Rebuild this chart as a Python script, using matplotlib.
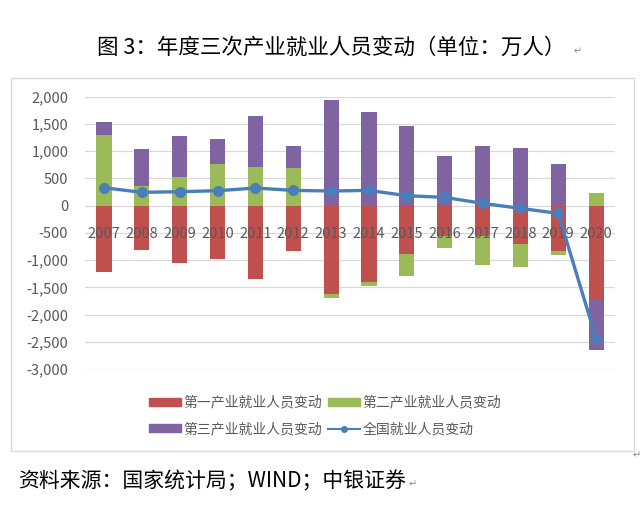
import numpy as np
import matplotlib.pyplot as plt
from matplotlib.patches import Rectangle, Patch
from matplotlib.lines import Line2D
from matplotlib.ticker import FuncFormatter

plt.rcParams['font.family'] = ['Noto Sans CJK SC', 'DejaVu Sans']
plt.rcParams['axes.unicode_minus'] = False

years = ['2007', '2008', '2009', '2010', '2011', '2012', '2013',
         '2014', '2015', '2016', '2017', '2018', '2019', '2020']
primary = [-1211, -805, -1046, -979, -1345, -832, -1615,
           -1394, -887, -550, -550, -703, -832, -1731]
secondary = [1290, 361, 526, 758, 703, 691, -73,
             -80, -397, -221, -533, -416, -73, 226]
tertiary = [251, 685, 758, 471, 948, 410, 1945,
            1725, 1468, 905, 1101, 1064, 771, -917]
total = [330, 245, 257, 275, 324, 281, 269,
         281, 183, 153, 43, -49, -141, -2434]
names = ['第一产业就业人员变动', '第二产业就业人员变动',
         '第三产业就业人员变动', '全国就业人员变动']
colors = ['#C0504D', '#9BBB59', '#8064A2']
line_color = '#4A7EBB'

fig = plt.figure(figsize=(6.4, 5.07), dpi=100)

# chart frame
fig.patches.append(Rectangle((11 / 640, 1 - 451 / 507), 623 / 640, 373 / 507,
                             transform=fig.transFigure, fill=False,
                             edgecolor='#D9D9D9', lw=1.0))

ax = fig.add_axes([85 / 640, 1 - 369.2 / 507, 530 / 640, 272.5 / 507])
x = np.arange(len(years))
pos_base = np.zeros(len(years))
neg_base = np.zeros(len(years))
for vals, c in zip([primary, secondary, tertiary], colors):
    v = np.array(vals, dtype=float)
    base = np.where(v >= 0, pos_base, neg_base)
    ax.bar(x, v, 0.4, bottom=base, color=c, zorder=2)
    pos_base += np.where(v >= 0, v, 0)
    neg_base += np.where(v < 0, v, 0)

ax.plot(x, total, color=line_color, lw=2.4, marker='o', ms=7, zorder=4)

ax.set_xlim(-0.5, len(years) - 0.5)
ax.set_ylim(-3000, 2000)
ax.set_yticks(np.arange(-3000, 2001, 500))
ax.yaxis.set_major_formatter(FuncFormatter(lambda v, p: f'{int(v):,}'))
ax.grid(axis='y', color='#D9D9D9', lw=0.9, zorder=0)
ax.set_xticks(x)
ax.set_xticklabels(years)
for s in ['top', 'right', 'left']:
    ax.spines[s].set_visible(False)
ax.spines['bottom'].set_position(('data', 0))
ax.spines['bottom'].set_visible(False)
ax.xaxis.set_zorder(3)
ax.tick_params(axis='x', length=0, pad=15, labelsize=10.5, labelcolor='#595959')
ax.tick_params(axis='y', length=0, pad=12, labelsize=10.5, labelcolor='#595959')

handles = [Patch(color=c) for c in colors]
handles.append(Line2D([], [], color=line_color, lw=1.5, marker='o', ms=4))
order = [0, 2, 1, 3]
leg = fig.legend([handles[i] for i in order], [names[i] for i in order],
                 ncol=2, loc='center', frameon=False,
                 bbox_to_anchor=(0.508, 1 - 416 / 507), fontsize=10,
                 handlelength=2.3, handleheight=0.5, handletextpad=0.2,
                 columnspacing=0.4, labelspacing=0.9)
for t in leg.get_texts():
    t.set_color('#595959')

fig.text(0.518, 1 - 48 / 507, '图 3：年度三次产业就业人员变动（单位：万人）',
         ha='center', va='center', fontsize=15.5, color='black')
fig.text(18 / 640, 1 - 481 / 507, '资料来源：国家统计局；WIND；中银证券',
         ha='left', va='center', fontsize=15, color='black')

# word paragraph marks
for px, py in [(578, 51), (413, 484), (637, 455)]:
    fig.text(px / 640, 1 - py / 507, '↵', ha='center', va='center',
             fontsize=7, color='#888888', family='DejaVu Sans')

fig.savefig('out.png', dpi=100)
